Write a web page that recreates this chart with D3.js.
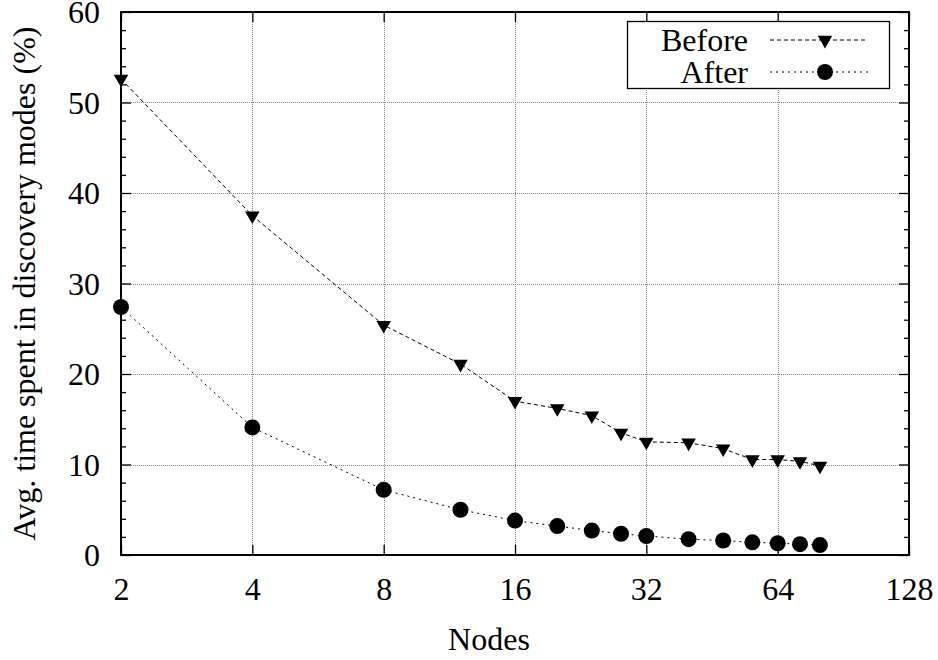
<!DOCTYPE html>
<html>
<head>
<meta charset="utf-8">
<script src="https://cdn.jsdelivr.net/npm/d3@7"></script>
<style>
  html, body { margin: 0; padding: 0; background: #fff; }
  svg { display: block; }
  svg text { font-family: "Liberation Serif", "Times New Roman", Times, "DejaVu Serif", serif; fill: #000; }
</style>
</head>
<body>
<div id="chart"></div>
<script>
const nodes = [2, 4, 8, 12, 16, 20, 24, 28, 32, 40, 48, 56, 64, 72, 80];
const before = [52.6, 37.5, 25.4, 21.1, 17.0, 16.2, 15.4, 13.5, 12.5, 12.4, 11.75, 10.55, 10.55, 10.35, 9.85];
const after = [27.4, 14.1, 7.2, 5.0, 3.8, 3.2, 2.7, 2.35, 2.1, 1.75, 1.6, 1.4, 1.3, 1.2, 1.1];
const xTicks = [2, 4, 8, 16, 32, 64, 128];
const yTicks = [0, 10, 20, 30, 40, 50, 60];
const yMinorTicks = d3.range(0, 61, 2);
const seriesNames = ["Before", "After"];
const xLabel = "Nodes";
const yLabel = "Avg. time spent in discovery modes (%)";

const FONT = '"Liberation Serif", "Times New Roman", Times, "DejaVu Serif", serif';
const FS = "32px";
const W = 938, H = 660;
const m = { left: 121, right: 29, top: 12, bottom: 105 };
const svg = d3.select("#chart").append("svg").attr("width", W).attr("height", H)
  .attr("font-family", FONT);

const x = d3.scaleLog().base(2).domain([2, 128]).range([m.left, W - m.right]);
const y = d3.scaleLinear().domain([0, 60]).range([H - m.bottom, m.top]);
const x0 = m.left, x1 = W - m.right, y0 = H - m.bottom, y1 = m.top;

// gridlines
const grid = svg.append("g").attr("stroke", "#888").attr("stroke-width", 1).attr("stroke-dasharray", "1,1");
yTicks.filter(t => t > 0 && t < 60).forEach(t => {
  grid.append("line").attr("x1", x0).attr("x2", x1).attr("y1", Math.round(y(t)) + 0.5).attr("y2", Math.round(y(t)) + 0.5);
});
xTicks.filter(t => t > 2 && t < 128).forEach(t => {
  grid.append("line").attr("y1", y0).attr("y2", y1).attr("x1", Math.round(x(t)) + 0.5).attr("x2", Math.round(x(t)) + 0.5);
});

// axes with mirrored inward ticks
const fmt = d3.format("d");
const axL = svg.append("g").attr("transform", `translate(${x0},0)`)
  .call(d3.axisLeft(y).tickValues(yTicks).tickSize(-10).tickPadding(21).tickFormat(fmt));
const axLm = svg.append("g").attr("transform", `translate(${x0},0)`)
  .call(d3.axisLeft(y).tickValues(yMinorTicks.filter(t => t % 10)).tickSize(-5).tickFormat(""));
const axR = svg.append("g").attr("transform", `translate(${x1},0)`)
  .call(d3.axisRight(y).tickValues(yTicks).tickSize(-10).tickFormat(""));
const axRm = svg.append("g").attr("transform", `translate(${x1},0)`)
  .call(d3.axisRight(y).tickValues(yMinorTicks.filter(t => t % 10)).tickSize(-5).tickFormat(""));
const axB = svg.append("g").attr("transform", `translate(0,${y0})`)
  .call(d3.axisBottom(x).tickValues(xTicks).tickSize(-10).tickPadding(22).tickFormat(fmt));
const axT = svg.append("g").attr("transform", `translate(0,${y1})`)
  .call(d3.axisTop(x).tickValues(xTicks).tickSize(-10).tickFormat(""));
[axL, axLm, axR, axRm, axB, axT].forEach(a => {
  a.attr("font-family", FONT).attr("font-size", FS);
  a.select(".domain").remove();
  a.selectAll(".tick line").attr("stroke", "#000").attr("stroke-width", 1.3);
  a.selectAll("text").style("font-family", FONT).style("font-size", FS).attr("fill", "#000");
});
axB.selectAll("text").attr("dy", "0.71em");
axL.selectAll("text").attr("dy", "0.34em");

// frame
svg.append("rect").attr("x", x0).attr("y", y1).attr("width", x1 - x0).attr("height", y0 - y1)
  .attr("fill", "none").attr("stroke", "#000").attr("stroke-width", 2);

// lines
const line = (vals) => d3.line().x((d, i) => x(nodes[i])).y(d => y(d))(vals);
svg.append("path").attr("d", line(before)).attr("fill", "none").attr("stroke", "#000")
  .attr("stroke-width", 1).attr("stroke-dasharray", "4,3");
svg.append("path").attr("d", line(after)).attr("fill", "none").attr("stroke", "#000")
  .attr("stroke-width", 1).attr("stroke-dasharray", "2,4");

// markers
const tri = (cx, cy) => {
  const s = 14.5, h = 12.6;
  return `M${cx - s / 2},${cy - h / 3}L${cx + s / 2},${cy - h / 3}L${cx},${cy + 2 * h / 3}Z`;
};
svg.append("g").selectAll("path").data(before).join("path")
  .attr("d", (d, i) => tri(x(nodes[i]), y(d))).attr("fill", "#000");
svg.append("g").selectAll("circle").data(after).join("circle")
  .attr("cx", (d, i) => x(nodes[i])).attr("cy", d => y(d)).attr("r", 8).attr("fill", "#000");

// legend
const lg = svg.append("g");
lg.append("rect").attr("x", 627.5).attr("y", 21.5).attr("width", 262).attr("height", 67)
  .attr("fill", "#fff").attr("stroke", "#000").attr("stroke-width", 1.3);
const rows = [{ name: seriesNames[0], y: 40, dash: "4,3", mark: "tri" },
              { name: seriesNames[1], y: 72, dash: "2,4", mark: "circ" }];
rows.forEach(r => {
  lg.append("text").attr("x", 748).attr("y", r.y).attr("dy", "0.34em").attr("text-anchor", "end")
    .style("font-family", FONT).style("font-size", FS).text(r.name);
  lg.append("line").attr("x1", 770).attr("x2", 868).attr("y1", r.y).attr("y2", r.y)
    .attr("stroke", "#000").attr("stroke-width", 1).attr("stroke-dasharray", r.dash);
  if (r.mark === "tri") lg.append("path").attr("d", tri(825, r.y)).attr("fill", "#000");
  else lg.append("circle").attr("cx", 825).attr("cy", r.y).attr("r", 8).attr("fill", "#000");
});

// axis labels
svg.append("text").attr("x", 489).attr("y", 650).attr("text-anchor", "middle")
  .style("font-family", FONT).style("font-size", FS).text(xLabel);
svg.append("text").attr("transform", `translate(35,${(y0 + y1) / 2}) rotate(-90)`)
  .attr("text-anchor", "middle").style("font-family", FONT).style("font-size", FS).text(yLabel);
</script>
</body>
</html>
